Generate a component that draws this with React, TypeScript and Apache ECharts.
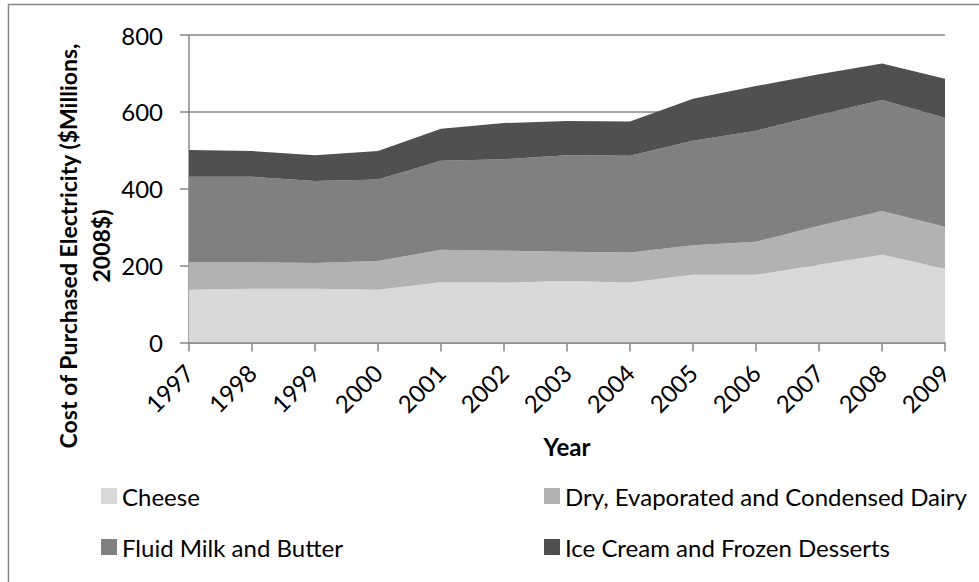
import React, { useEffect, useRef } from "react";
import * as echarts from "echarts";

const years = ["1997","1998","1999","2000","2001","2002","2003","2004","2005","2006","2007","2008","2009"];
const cheese = [137, 140, 140, 137, 157, 156, 160, 156, 176, 176, 202, 228, 192];
const dryDairy = [72, 69, 67, 75, 84, 83, 76, 78, 77, 86, 102, 114, 109];
const fluidMilk = [222, 222, 213, 212, 232, 238, 251, 252, 272, 289, 288, 289, 284];
const iceCream = [70, 67, 67, 74, 83, 94, 89, 89, 109, 116, 106, 95, 101];
const yTicks = { min: 0, max: 800, interval: 200 };

const FONT = "Lato, 'Open Sans', sans-serif";
const GRAY = "#878787";

export default function App() {
  const ref = useRef<HTMLDivElement>(null);
  useEffect(() => {
    if (!ref.current) return;
    const chart = echarts.init(ref.current, null, { renderer: "svg" });
    const mk = (name: string, data: number[], color: string) => ({
      name,
      type: "line",
      stack: "total",
      data,
      symbol: "none",
      lineStyle: { width: 0 },
      itemStyle: { color },
      areaStyle: { color, opacity: 1 },
    });
    const legendText = { fontFamily: FONT, fontSize: 24, color: "#000", lineHeight: 28 };
    chart.setOption({
      animation: false,
      backgroundColor: "#ffffff",
      textStyle: { fontFamily: FONT },
      grid: { left: 189, right: 34, top: 35, bottom: 239.5, containLabel: false },
      xAxis: {
        type: "category",
        data: years,
        boundaryGap: false,
        name: "Year",
        nameLocation: "middle",
        nameGap: 92,
        nameTextStyle: { fontFamily: FONT, fontSize: 24, fontWeight: "bold", color: "#000" },
        axisLine: { lineStyle: { color: GRAY, width: 1.5 } },
        axisTick: { show: true, length: 9, lineStyle: { color: GRAY, width: 1.5 } },
        axisLabel: { rotate: 45, fontFamily: FONT, fontSize: 24, color: "#000", margin: 26, interval: 0 },
        splitLine: { show: false },
      },
      yAxis: {
        type: "value",
        min: yTicks.min,
        max: yTicks.max,
        interval: yTicks.interval,
        axisLine: { show: true, lineStyle: { color: GRAY, width: 1.5 } },
        axisTick: { show: true, length: 9, lineStyle: { color: GRAY, width: 1.5 } },
        axisLabel: { fontFamily: FONT, fontSize: 24, color: "#000", margin: 26 },
        splitLine: { show: true, lineStyle: { color: GRAY, width: 1.5 } },
      },
      legend: [
        {
          data: ["Cheese", "Fluid Milk and Butter"],
          orient: "vertical",
          left: 96,
          top: 477,
          itemWidth: 16,
          itemHeight: 16,
          itemGap: 23,
          icon: "rect",
          textStyle: legendText,
        },
        {
          data: ["Dry, Evaporated and Condensed Dairy", "Ice Cream and Frozen Desserts"],
          orient: "vertical",
          left: 539,
          top: 477,
          itemWidth: 16,
          itemHeight: 16,
          itemGap: 23,
          icon: "rect",
          textStyle: legendText,
        },
      ],
      graphic: [
        {
          type: "rect",
          shape: { x: 8.5, y: 4.5, width: 1000, height: 1000 },
          style: { fill: "none", stroke: GRAY, lineWidth: 1.5 },
          silent: true,
        },
        {
          type: "text",
          x: 84,
          y: 246,
          rotation: Math.PI / 2,
          style: {
            text: "Cost of Purchased Electricity ($Millions,\n2008$)",
            font: `bold 23px ${FONT}`,
            fill: "#000",
            align: "center",
            verticalAlign: "middle",
            lineHeight: 33,
          },
        },
      ],
      series: [
        mk("Cheese", cheese, "#d9d9d9"),
        mk("Dry, Evaporated and Condensed Dairy", dryDairy, "#b2b2b2"),
        mk("Fluid Milk and Butter", fluidMilk, "#808080"),
        mk("Ice Cream and Frozen Desserts", iceCream, "#505050"),
      ],
    });
    return () => chart.dispose();
  }, []);
  return (
    <div
      ref={ref}
      style={{ position: "fixed", left: 0, top: 0, width: 979, height: 582, background: "#fff" }}
    />
  );
}
